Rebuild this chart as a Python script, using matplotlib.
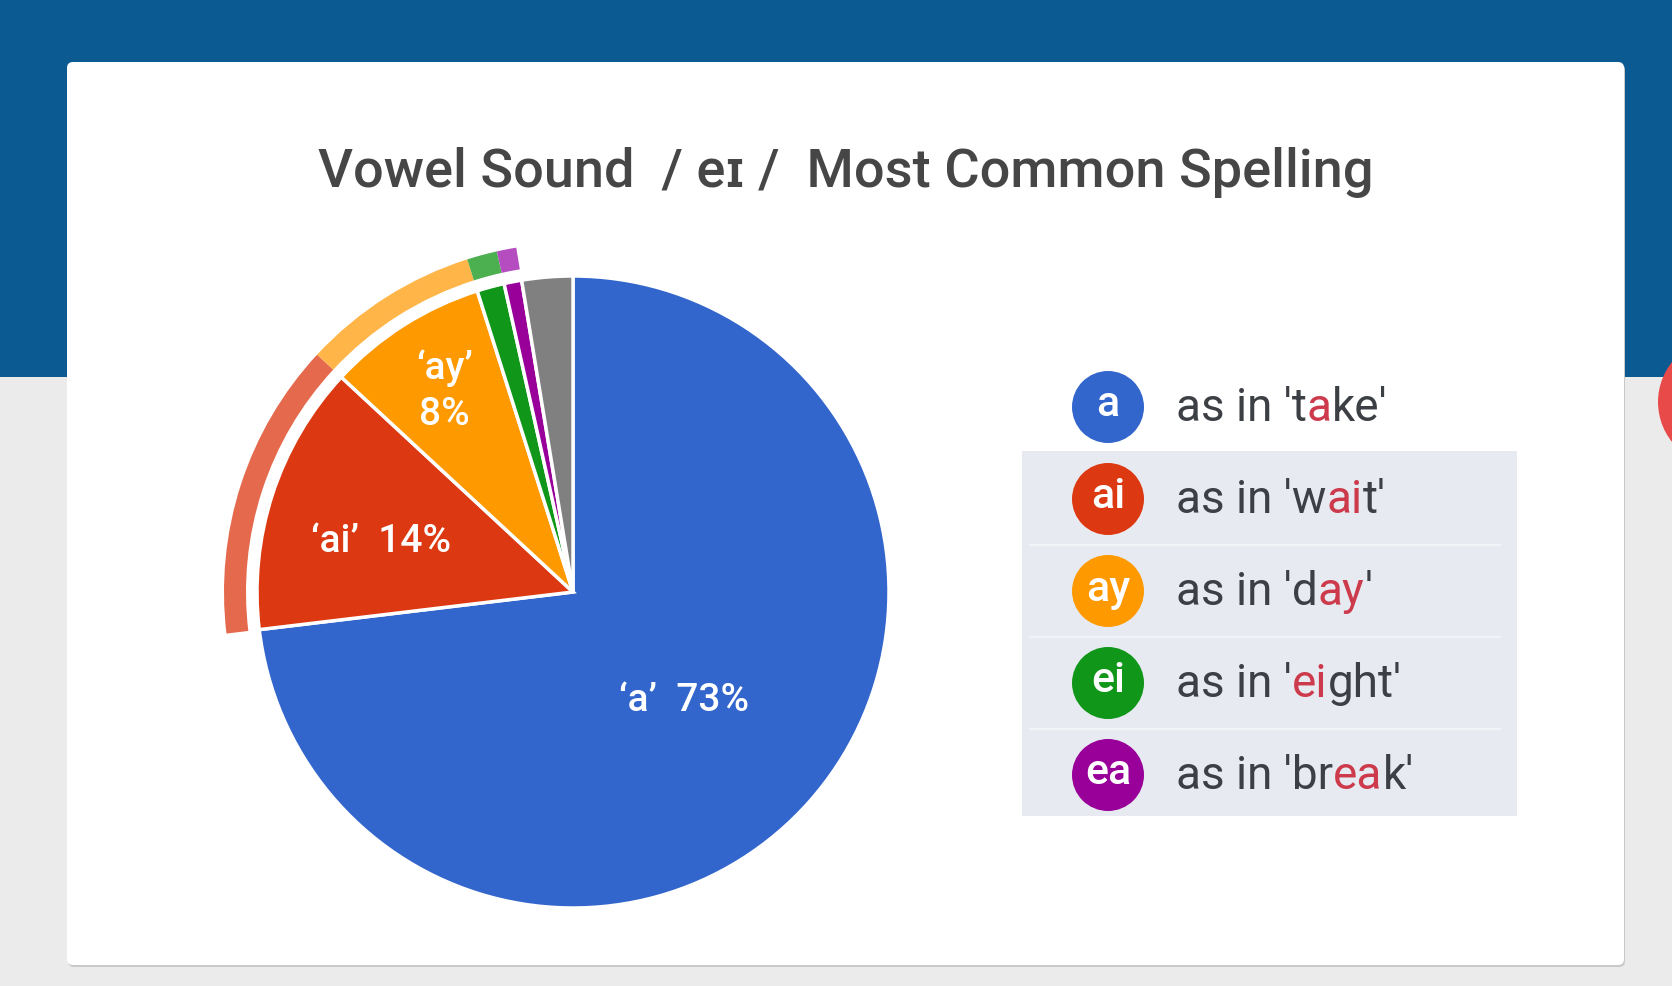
import matplotlib
matplotlib.use('Agg')
import matplotlib.pyplot as plt
from matplotlib.patches import Rectangle, FancyBboxPatch, Circle
import numpy as np

# ---------------- data ----------------
spellings = ['a', 'ai', 'ay', 'ei', 'ea', 'other']
shares = [73.1, 13.8, 8.2, 1.4, 0.9, 2.6]
slice_labels = ["\u2018a\u2019  73%", "\u2018ai\u2019  14%", "\u2018ay\u2019\n8%", '', '', '']
highlighted = [False, True, True, True, True, False]

legend_keys = ['a', 'ai', 'ay', 'ei', 'ea']
legend_before = ["as in 't", "as in 'w", "as in 'd", "as in '", "as in 'br"]
legend_mark = ['a', 'ai', 'ay', 'ei', 'ea']
legend_after = ["ke'", "t'", "'", "ght'", "k'"]

title_text = "Vowel Sound  / e\u026a /  Most Common Spelling"

# ---------------- style ----------------
slice_colors = ['#3366cc', '#dc3912', '#ff9900', '#109618', '#990099', '#808080']
ring_colors = ['#3366cc', '#e5694c', '#ffb547', '#4caf50', '#b54cc0', '#808080']
label_rfrac = [0.47, 0.64, 0.76, 0, 0, 0]
label_dy = [-10, -12, -2, 0, 0, 0]
FONT = ['Roboto', 'DejaVu Sans']
plt.rcParams['font.family'] = FONT

W, H = 1672, 986
fig = plt.figure(figsize=(W / 100, H / 100), dpi=100)
ax = fig.add_axes([0, 0, 1, 1])

def Y(y):
    return H - y

# background
fig.patch.set_facecolor('#ebebeb')
ax.add_patch(Rectangle((0, Y(377)), W, 377, facecolor='#0b5a92', edgecolor='none', zorder=0))
ax.add_patch(Circle((1722, Y(402)), 64, facecolor='#e84a4a', edgecolor='none', zorder=0.5))
# card shadow and card
ax.add_patch(FancyBboxPatch((68, Y(967)), 1557, 903, boxstyle='round,pad=0,rounding_size=6',
                            facecolor='#c8c8c8', edgecolor='none', zorder=1))
ax.add_patch(FancyBboxPatch((67, Y(965)), 1557, 903, boxstyle='round,pad=0,rounding_size=6',
                            facecolor='white', edgecolor='none', zorder=1.1))

# title
ax.text(846, Y(173), title_text, ha='center', va='center', fontsize=39,
        fontweight='medium', color='#464646', zorder=5)

# ---------------- pie ----------------
cx, cy, R = 573, Y(592), 316
wedges, _ = ax.pie(shares, startangle=90, counterclock=False, center=(cx, cy), radius=R,
                   colors=slice_colors,
                   wedgeprops=dict(edgecolor='white', linewidth=2.5, zorder=3))
for w in wedges:
    w.set_zorder(3)

# highlight ring for the non-'a' spellings
ring_fc = [c if h else 'none' for c, h in zip(ring_colors, highlighted)]
ring, _ = ax.pie(shares, startangle=90, counterclock=False, center=(cx, cy), radius=R + 33,
                 colors=ring_fc, wedgeprops=dict(width=22, edgecolor='none'))
for w, h in zip(ring, highlighted):
    w.set_zorder(2.5)
    if not h:
        w.set_visible(False)

# slice labels
for w, lab, rf, dy in zip(wedges, slice_labels, label_rfrac, label_dy):
    if not lab:
        continue
    mid = np.deg2rad((w.theta1 + w.theta2) / 2)
    ax.text(cx + rf * R * np.cos(mid), cy + rf * R * np.sin(mid) + dy, lab,
            ha='center', va='center', fontsize=28, fontweight='medium', color='white',
            linespacing=1.3, zorder=6)

# ---------------- legend ----------------
ax.add_patch(Rectangle((1022, Y(816)), 495, 365, facecolor='#e7ebf1', edgecolor='none', zorder=2))
row_y = [407, 499, 591, 683, 775]
for i in range(1, 4):
    yy = (row_y[i] + row_y[i + 1]) / 2
    ax.plot([1030, 1500], [Y(yy), Y(yy)], color='#f1f3f7', lw=1.5, zorder=2.2)

for i, key in enumerate(legend_keys):
    yc = Y(row_y[i])
    ax.add_patch(Circle((1108, yc), 36, facecolor=slice_colors[i], edgecolor='none', zorder=4))
    ax.text(1108, yc + 2, key, ha='center', va='center', fontsize=31, fontweight='medium',
            color='white', zorder=5)
    t1 = ax.text(1176, yc - 14, legend_before[i], ha='left', va='baseline', fontsize=33,
                 color='#3c3f44', zorder=5)
    t2 = ax.annotate(legend_mark[i], xy=(1, 0), xycoords=t1, ha='left', va='bottom',
                     fontsize=33, color='#cc3a4c', zorder=5)
    ax.annotate(legend_after[i], xy=(1, 0), xycoords=t2, ha='left', va='bottom',
                fontsize=33, color='#3c3f44', zorder=5)

ax.set_xlim(0, W)
ax.set_ylim(0, H)
ax.set_aspect('equal')
ax.axis('off')
fig.savefig('out.png', dpi=100, facecolor=fig.get_facecolor())
